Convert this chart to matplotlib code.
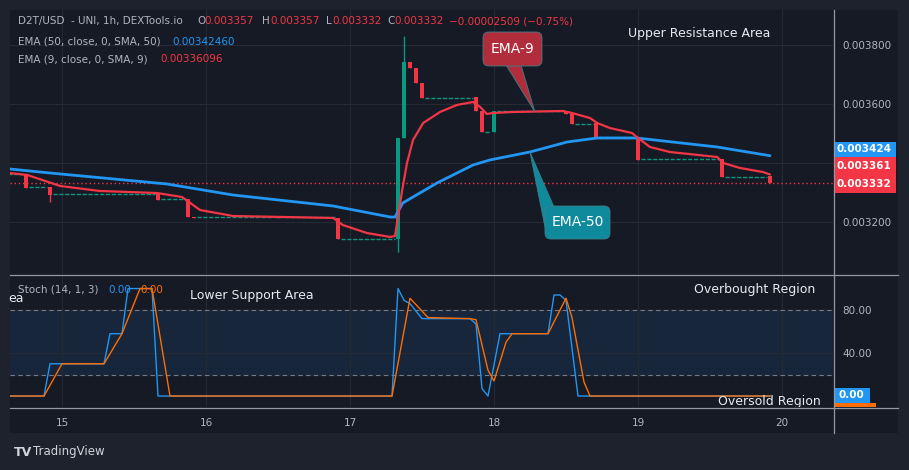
import matplotlib
matplotlib.use("Agg")
import matplotlib.pyplot as plt
from matplotlib.patches import Rectangle, FancyBboxPatch, Polygon

W, H = 909, 470

# hours counted from day 15, 00:00
candle_hour = [-6, -2, 16, 21, 22, 36, 46, 56, 57, 58, 59, 60, 69, 70, 72, 84, 85, 89, 96, 110, 118]
candle_open = [0.0033627, 0.0033190, 0.0032983, 0.0032780, 0.0032169, 0.0032170, 0.0032136,
               0.0031424, 0.0034847, 0.0037424, 0.0037220, 0.0036712, 0.0036237, 0.0035763,
               0.0035051, 0.0035763, 0.0035661, 0.0035356, 0.0034847, 0.0034136, 0.0033570]
candle_close = [0.0033153, 0.0032915, 0.0032746, 0.0032169, 0.0032136, 0.0032130, 0.0031424,
                0.0034847, 0.0037424, 0.0037220, 0.0036712, 0.0036203, 0.0035763, 0.0035051,
                0.0035763, 0.0035661, 0.0035322, 0.0034847, 0.0034102, 0.0033525, 0.0033320]
candle_high = [0.0033627, 0.0033190, 0.0032983, 0.0032780, 0.0032169, 0.0032170, 0.0032136,
               0.0034847, 0.0038305, 0.0037424, 0.0037220, 0.0036712, 0.0036237, 0.0035763,
               0.0035763, 0.0035763, 0.0035661, 0.0035356, 0.0034847, 0.0034136, 0.0033570]
candle_low = [0.0033153, 0.0032680, 0.0032746, 0.0032169, 0.0032136, 0.0032130, 0.0031424,
              0.0030983, 0.0034847, 0.0037220, 0.0036712, 0.0036203, 0.0035763, 0.0035051,
              0.0035051, 0.0035661, 0.0035322, 0.0034847, 0.0034102, 0.0033525, 0.0033320]

# runs of flat (doji) hours
flat_start = [-9, -5.5, -1.5, 16.5, 22.5, 46.5, 60.5, 70.5, 72.5, 85.5, 89.5, 96.5, 110.5]
flat_end = [-6.5, -2.5, 15.5, 20.5, 45.5, 55.5, 68.5, 71.5, 83.5, 88.5, 95.5, 109.5, 117.5]
flat_level = [0.0033630, 0.0033190, 0.0032950, 0.0032780, 0.0032169, 0.0031424, 0.0036203,
              0.0035051, 0.0035763, 0.0035322, 0.0034880, 0.0034136, 0.0033525]

ema50_hour = [-8.7, -2, 17.5, 28.5, 45.2, 54.7, 55.5, 56.8, 58.5, 62.5, 68.5, 71.3, 78, 84.2,
              89.2, 95.8, 109.2, 118]
ema50_val = [0.0033797, 0.0033661, 0.0033288, 0.0032915, 0.0032542, 0.0032169, 0.0032169,
             0.0032644, 0.0032847, 0.0033322, 0.0033932, 0.0034102, 0.0034373, 0.0034712,
             0.0034847, 0.0034847, 0.0034542, 0.0034246]

ema9_hour = [-8.7, -5.8, -2.8, -0.3, 6.3, 15.8, 20, 23, 28.5, 45.2, 46.8, 50.8, 54.7, 55.5,
             56.7, 57.5, 58.5, 60.2, 63, 65.8, 68.5, 69.7, 70.8, 71.8, 75.2, 83.5, 85, 88,
             89.2, 91.3, 95, 96, 98, 101.3, 109.2, 110.2, 113, 116.8, 118]
ema9_val = [0.0033661, 0.0033593, 0.0033390, 0.0033220, 0.0033051, 0.0032983, 0.0032847,
            0.0032407, 0.0032203, 0.0032136, 0.0031898, 0.0031627, 0.0031492, 0.0031525,
            0.0033085, 0.0033999, 0.0034780, 0.0035356, 0.0035729, 0.0035966, 0.0036068,
            0.0035898, 0.0035661, 0.0035695, 0.0035729, 0.0035763, 0.0035695, 0.0035525,
            0.0035356, 0.0035186, 0.0035017, 0.0034847, 0.0034542, 0.0034373, 0.0034203,
            0.0033999, 0.0033831, 0.0033695, 0.0033610]

k_hour = [-9, -3, -2, 7, 8, 10, 11, 15, 16, 55, 56, 57, 58, 60, 68, 69, 70, 71, 73, 81, 82,
          83, 84, 86, 118]
k_val = [0, 0, 30, 30, 58, 58, 100, 100, 0, 0, 100, 89, 86, 72, 72, 67, 7, 0, 58, 58, 94,
         94, 89, 0, 0]
d_hour = [-9, -3, 0, 7, 10, 13, 15, 18, 55, 58, 61, 68, 69, 71, 72, 74, 75, 81, 84, 85, 87,
          88, 118]
d_val = [0, 0, 30, 30, 58, 100, 100, 0, 0, 91, 73, 72, 71, 24, 14, 50, 58, 58, 91, 73, 13,
         0, 0]

day_ticks = [0, 24, 48, 72, 96, 120]
day_labels = ["15", "16", "17", "18", "19", "20"]
price_ticks = [0.0032, 0.0034, 0.0036, 0.0038]
price_labels = ["0.003200", "", "0.003600", "0.003800"]

BG = "#161a25"
OUTER = "#1e222d"
GRID = "#262a35"
TXT = "#b2b5be"
RED = "#f23645"
GREEN = "#089981"
BLUE = "#2196f3"
ORANGE = "#ff6d00"
SEP = "#9598a1"


def fx(x):
    return x / W


def fy(y):
    return 1 - y / H


fig = plt.figure(figsize=(W / 100, H / 100), dpi=100, facecolor=OUTER)
fig.patches.append(Rectangle((fx(10), fy(433)), fx(888), 423 / H, transform=fig.transFigure,
                             facecolor=BG, edgecolor="none", zorder=-10))

ax = fig.add_axes([fx(10), fy(274), fx(823), 264 / H], facecolor=BG)
ax2 = fig.add_axes([fx(10), fy(407), fx(823), 132 / H], facecolor=BG)

xmin, xmax = (10 - 62) / 6, (833 - 62) / 6
for a in (ax, ax2):
    a.set_xlim(xmin, xmax)
    for s in a.spines.values():
        s.set_visible(False)
    a.set_xticks(day_ticks)
    a.grid(True, color=GRID, lw=0.8)
    a.set_axisbelow(True)
    a.tick_params(length=0, colors=TXT, labelsize=7.5)
    a.yaxis.tick_right()

ax.set_ylim(0.0030237, 0.0039186)
ax.set_yticks(price_ticks)
ax.set_yticklabels(price_labels)
ax.tick_params(axis="y", pad=7)
ax.set_xticklabels([])

# candles
for h, o, hi, lo, c in zip(candle_hour, candle_open, candle_high, candle_low, candle_close):
    col = GREEN if c > o else RED
    ax.vlines(h, lo, hi, color=col, lw=1, zorder=3)
    ax.bar(h, abs(c - o), bottom=min(o, c), width=0.8, color=col, zorder=3)
ax.hlines(flat_level, flat_start, flat_end, colors=GREEN, lw=1, linestyles=(0, (3, 1.2)), zorder=3)

ax.plot(ema50_hour, ema50_val, color=BLUE, lw=2, zorder=4, solid_capstyle="round")
ax.plot(ema9_hour, ema9_val, color=RED, lw=1.6, zorder=5, solid_capstyle="round")
ax.axhline(candle_close[-1], color=RED, lw=1, ls=(0, (1, 2)), zorder=2)

# stochastic pane
ax2.set_ylim(-10.2, 112.6)
ax2.axhspan(20, 80, color="#17263a", zorder=0)
ax2.axhline(80, color="#787b86", lw=0.8, ls=(0, (4, 3)))
ax2.axhline(20, color="#787b86", lw=0.8, ls=(0, (4, 3)))
ax2.set_yticks([40, 80])
ax2.set_yticklabels(["40.00", "80.00"])
ax2.tick_params(axis="y", pad=7)
ax2.set_xticklabels(day_labels)
ax2.tick_params(axis="x", pad=8)
ax2.plot(k_hour, k_val, color=BLUE, lw=1, zorder=3)
ax2.plot(d_hour, d_val, color=ORANGE, lw=1, zorder=4)

# separators
for y in (274.5, 407.5):
    fig.add_artist(plt.Line2D([fx(10), fx(898)], [fy(y), fy(y)], color=SEP, lw=0.9))
fig.add_artist(plt.Line2D([fx(833.5), fx(833.5)], [fy(10), fy(433)], color=SEP, lw=0.9))


def label(x, y, s, color=TXT, size=7.5, **kw):
    return fig.text(fx(x), fy(y), s, color=color, fontsize=size, va="center", **kw)


# legend rows
label(18, 21, "D2T/USD  - UNI, 1h, DEXTools.io")
for x, s, col in [(197, "O", TXT), (204, "0.003357", RED), (262, "H", TXT), (270, "0.003357", RED),
                  (326, "L", TXT), (332, "0.003332", RED), (387, "C", TXT), (394, "0.003332", RED),
                  (449, "\u22120.00002509 (\u22120.75%)", RED)]:
    label(x, 21, s, col)
label(18, 42, "EMA (50, close, 0, SMA, 50)")
label(172, 42, "0.00342460", BLUE)
label(18, 59, "EMA (9, close, 0, SMA, 9)")
label(160, 59, "0.00336096", RED)

label(18, 290, "Stoch (14, 1, 3)")
label(108, 290, "0.00", BLUE)
label(140, 290, "0.00", ORANGE)

label(628, 34, "Upper Resistance Area", "#e8eaf0", 9)
label(190, 295, "Lower Support Area", "#e8eaf0", 9)
label(8, 299, "ea", "#e8eaf0", 9)
label(694, 289, "Overbought Region", "#e8eaf0", 9)
t = label(718, 402, "Oversold Region", "#e8eaf0", 9)
t.set_clip_box(ax2.bbox)
t.set_clip_on(True)

# price labels on the scale
for y0, y1, txt, col in [(142, 157, "0.003424", BLUE), (157, 175.5, "0.003361", RED),
                         (175.5, 193, "0.003332", RED)]:
    fig.patches.append(Rectangle((fx(833.5), fy(y1)), fx(62), (y1 - y0) / H,
                                 transform=fig.transFigure, facecolor=col, edgecolor="none"))
    label(864, (y0 + y1) / 2, txt, "white", 7.5, ha="center", weight="bold")
fig.patches.append(Rectangle((fx(833.5), fy(407)), fx(42), 4 / H, transform=fig.transFigure,
                             facecolor=ORANGE, edgecolor="none"))
fig.patches.append(Rectangle((fx(833.5), fy(403)), fx(36), 15 / H, transform=fig.transFigure,
                             facecolor=BLUE, edgecolor="none"))
label(851, 395.5, "0.00", "white", 7.5, ha="center", weight="bold")

# callouts
inv = fig.transFigure.inverted()


def callout(box, base, tip_data, face, text):
    x0, y0, x1, y1 = box
    tip = inv.transform(ax.transData.transform(tip_data))
    pts = [(fx(base[0][0]), fy(base[0][1])), (fx(base[1][0]), fy(base[1][1])), tuple(tip)]
    fig.patches.append(Polygon(pts, closed=True, transform=fig.transFigure, facecolor=face,
                               edgecolor="#3a7f8c", lw=0.6, zorder=5))
    fig.patches.append(FancyBboxPatch((x0, H - y1), x1 - x0, y1 - y0,
                                      boxstyle="round,pad=0,rounding_size=6",
                                      transform=None, facecolor=face, edgecolor="#3a7f8c",
                                      lw=0.6, zorder=6))
    fig.text(fx((x0 + x1) / 2), fy((y0 + y1) / 2), text, color="white", fontsize=10,
             ha="center", va="center", zorder=7)


callout((483, 32, 542, 66), [(506, 65), (521, 65)], (78.8, 0.003574), "#b22d3b", "EMA-9")
callout((545, 206, 610, 239), [(546, 232), (554, 207)], (78.0, 0.003437), "#0e8a9c", "EMA-50")

# TradingView mark
label(14, 452, "TV", "#d1d4dc", 9, weight="bold")
label(33, 452, "TradingView", "#d1d4dc", 8.5)

fig.savefig("out.png", dpi=100, facecolor=OUTER)
